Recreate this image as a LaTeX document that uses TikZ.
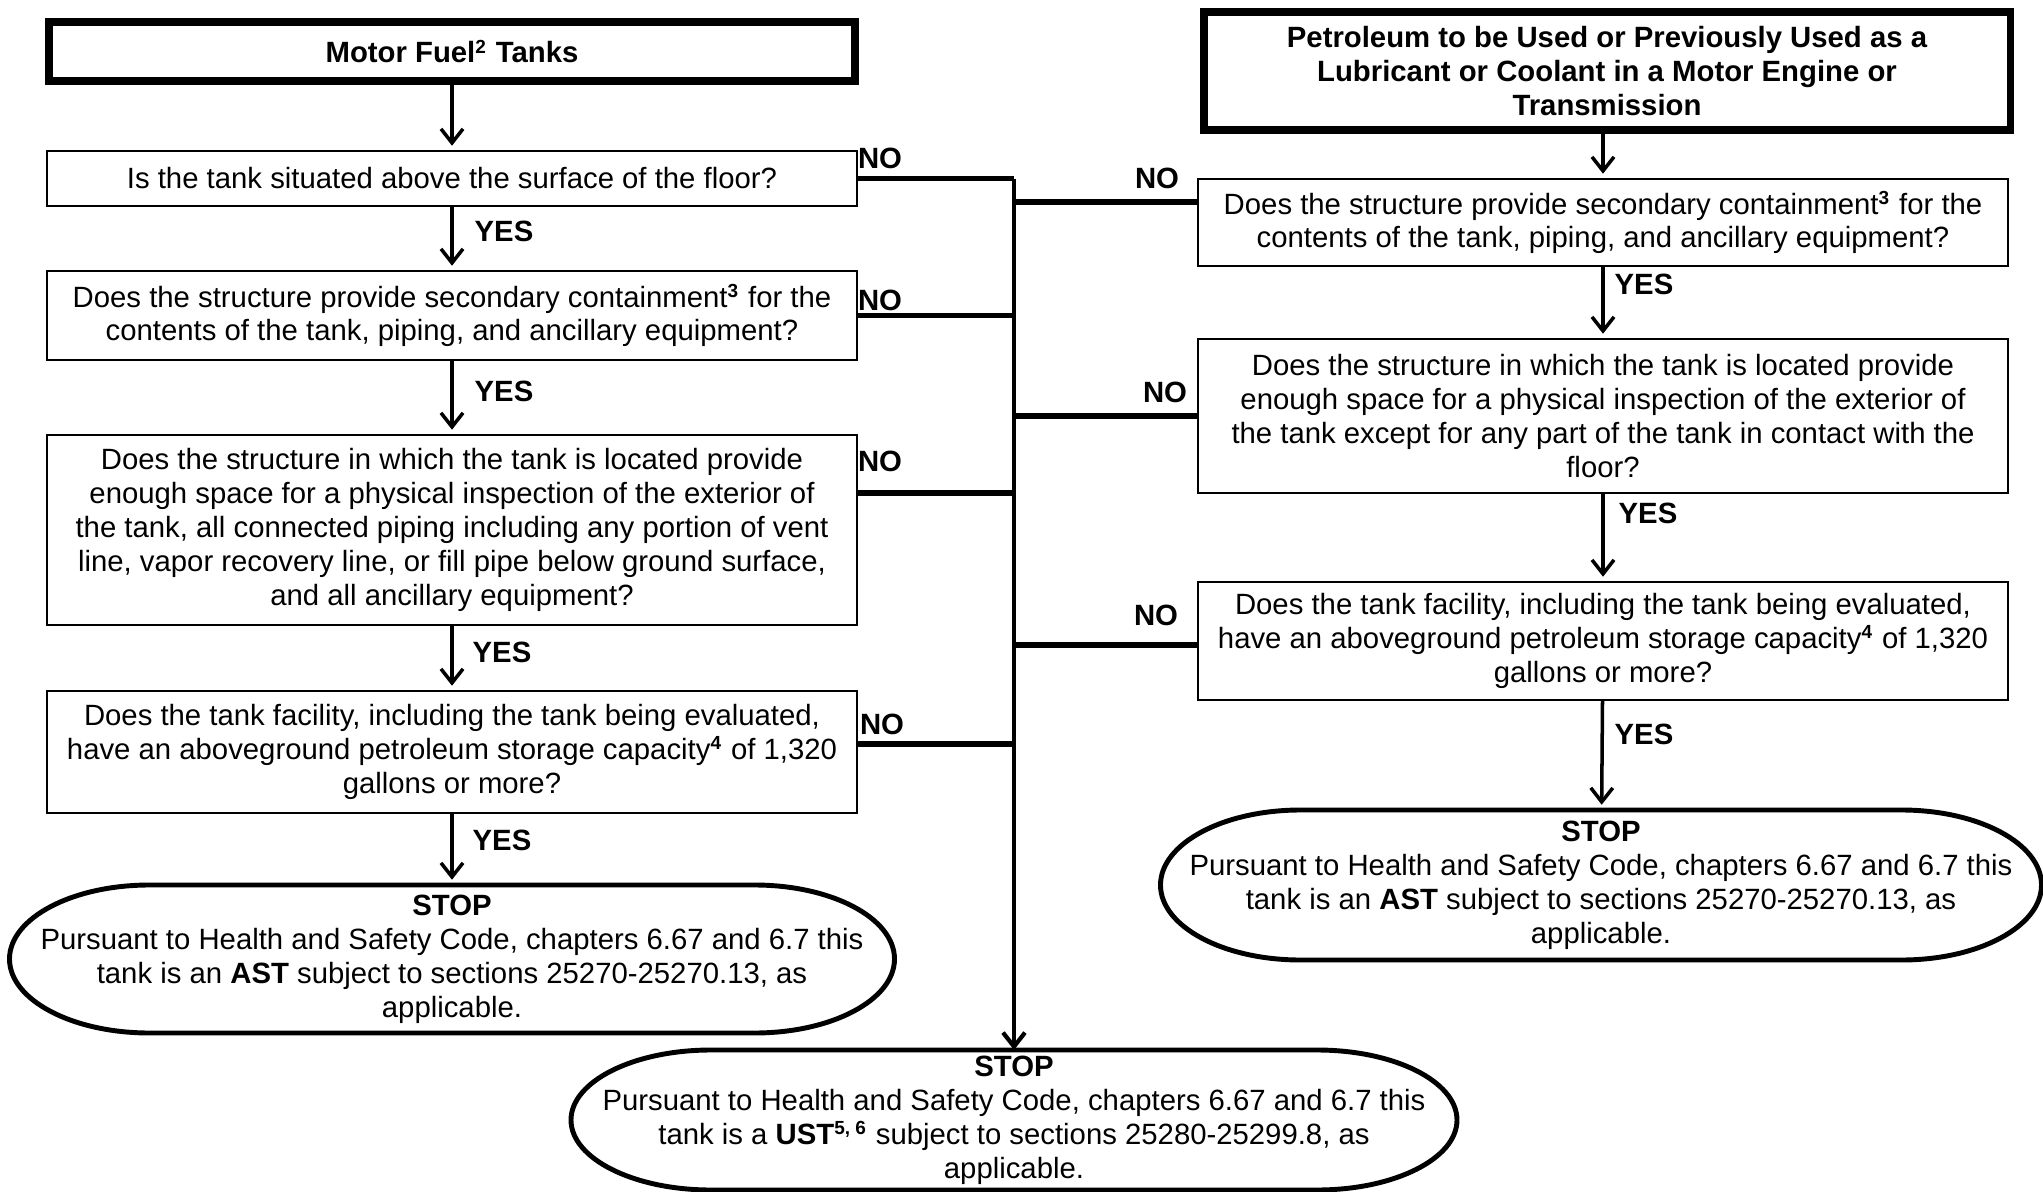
\documentclass[tikz,border=0pt]{standalone}
\usepackage{fontspec}
\setmainfont{Liberation Sans}
\usetikzlibrary{arrows.meta}
\newcommand{\qfont}{\fontsize{8.34pt}{9.64pt}\selectfont}
\newcommand{\fnote}[1]{\textsuperscript{\fontsize{5.4pt}{5.4pt}\selectfont\bfseries #1}}

\begin{document}
\begin{tikzpicture}[>={Straight Barb[length=1.4mm,width=2.2mm]},
	qbox/.style={draw, line width=0.6pt, minimum width=8.1cm, inner sep=0pt, outer sep=0pt, align=center, font=\qfont},
	titlebox/.style={draw, line width=2pt, minimum width=8.06cm, inner sep=0pt, outer sep=0pt, align=center, font=\qfont\bfseries},
	stopbox/.style={minimum width=8.85cm, inner sep=0pt, outer sep=0pt, align=center, font=\qfont},
	flow/.style={->, line width=1pt, shorten >=1.5pt},
	noline/.style={line width=1.7pt},
	trunk/.style={->, line width=1.2pt},
	lbl/.style={font=\qfont\bfseries, inner sep=0pt},
	oval/.style={line width=1.4pt}]
	\useasboundingbox (0,0) rectangle (20.43,-11.92);
	%%% Colonna sinistra
	\node[titlebox, minimum height=0.59cm] (fuel) at (4.52,-0.515) {Motor Fuel\fnote{2} Tanks};
	\node[qbox, minimum height=0.55cm] (q1) at (4.52,-1.785) {Is the tank situated above the surface of the floor?};
	\node[qbox, minimum height=0.89cm] (q2) at (4.52,-3.155) {Does the structure provide secondary containment\fnote{3} for the\\contents of the tank, piping, and ancillary equipment?};
	\node[qbox, minimum height=1.90cm] (q3) at (4.52,-5.30) {Does the structure in which the tank is located provide\\enough space for a physical inspection of the exterior of\\the tank, all connected piping including any portion of vent\\line, vapor recovery line, or fill pipe below ground surface,\\and all ancillary equipment?};
	\node[qbox, minimum height=1.22cm] (q4) at (4.52,-7.52) {Does the tank facility, including the tank being evaluated,\\have an aboveground petroleum storage capacity\fnote{4} of 1,320\\gallons or more?};
	\node[stopbox, minimum height=1.48cm] (stopL) at (4.52,-9.59) {\textbf{STOP}\\Pursuant to Health and Safety Code, chapters 6.67 and 6.7 this\\tank is an \textbf{AST} subject to sections 25270-25270.13, as\\applicable.};
	%%% Colonna destra
	\node[titlebox, minimum height=1.18cm] (lube) at (16.07,-0.71) {Petroleum to be Used or Previously Used as a\\Lubricant or Coolant in a Motor Engine or\\Transmission};
	\node[qbox, minimum height=0.87cm] (rq1) at (16.03,-2.225) {Does the structure provide secondary containment\fnote{3} for the\\contents of the tank, piping, and ancillary equipment?};
	\node[qbox, minimum height=1.54cm] (rq2) at (16.03,-4.16) {Does the structure in which the tank is located provide\\enough space for a physical inspection of the exterior of\\the tank except for any part of the tank in contact with the\\floor?};
	\node[qbox, minimum height=1.18cm] (rq3) at (16.03,-6.41) {Does the tank facility, including the tank being evaluated,\\have an aboveground petroleum storage capacity\fnote{4} of 1,320\\gallons or more?};
	\node[stopbox, minimum width=8.81cm, minimum height=1.50cm] (stopR) at (16.01,-8.85) {\textbf{STOP}\\Pursuant to Health and Safety Code, chapters 6.67 and 6.7 this\\tank is an \textbf{AST} subject to sections 25270-25270.13, as\\applicable.};
	%%% Stop in basso
	\node[stopbox, minimum width=8.86cm, minimum height=1.40cm] (stopU) at (10.14,-11.20) {\textbf{STOP}\\Pursuant to Health and Safety Code, chapters 6.67 and 6.7 this\\tank is a \textbf{UST}\fnote{5, 6} subject to sections 25280-25299.8, as\\applicable.};
	%%% Ovali
	\foreach \s/\b in {stopL/0.74, stopR/0.75, stopU/0.70}
	\draw[oval] ([xshift=1.4cm]\s.north west) -- ([xshift=-1.4cm]\s.north east)
		arc[start angle=90, end angle=-90, x radius=1.4cm, y radius=\b cm]
		-- ([xshift=1.4cm]\s.south west)
		arc[start angle=270, end angle=90, x radius=1.4cm, y radius=\b cm] -- cycle;
	%%% Frecce YES
	\draw[flow] (fuel) -- (q1);
	\draw[flow] (q1) -- (q2);
	\draw[flow] (q2) -- (q3);
	\draw[flow] (q3) -- (q4);
	\draw[flow] (q4) -- (stopL);
	\draw[flow] (rq1.north |- lube.south) -- (rq1.north);
	\draw[flow] (rq1) -- (rq2);
	\draw[flow] (rq2) -- (rq3);
	\draw[flow] (rq3) -- (stopR);
	%%% Linee NO
	\coordinate (jtop) at (q1.east -| stopU.north);
	\draw[trunk] (jtop) -- (stopU.north);
	\draw[noline] (q1.east) -- (jtop);
	\draw[noline] (q2.east) -- (q2.east -| jtop);
	\draw[noline] ([yshift=0.37cm]q3.east) -- ([yshift=0.37cm]q3.east -| jtop);
	\draw[noline] ([yshift=0.08cm]q4.east) -- ([yshift=0.08cm]q4.east -| jtop);
	\draw[noline] ([yshift=0.205cm]rq1.west) -- ([yshift=0.205cm]rq1.west -| jtop);
	\draw[noline] (rq2.west) -- (rq2.west -| jtop);
	\draw[noline] ([yshift=-0.04cm]rq3.west) -- ([yshift=-0.04cm]rq3.west -| jtop);
	%%% Etichette
	\node[lbl] (no1) at (8.80,-1.58) {NO};
	\node[lbl] (no2) at (8.80,-3.00) {NO};
	\node[lbl] (no3) at (8.80,-4.61) {NO};
	\node[lbl] (no4) at (8.82,-7.24) {NO};
	\node[lbl] (no5) at (11.57,-1.785) {NO};
	\node[lbl] (no6) at (11.65,-3.92) {NO};
	\node[lbl] (no7) at (11.56,-6.15) {NO};
	\node[lbl] (yes1) at (5.04,-2.31) {YES};
	\node[lbl] (yes2) at (5.04,-3.91) {YES};
	\node[lbl] (yes3) at (5.02,-6.52) {YES};
	\node[lbl] (yes4) at (5.02,-8.40) {YES};
	\node[lbl] (yes5) at (16.44,-2.84) {YES};
	\node[lbl] (yes6) at (16.48,-5.13) {YES};
	\node[lbl] (yes7) at (16.44,-7.34) {YES};
\end{tikzpicture}
\end{document}
